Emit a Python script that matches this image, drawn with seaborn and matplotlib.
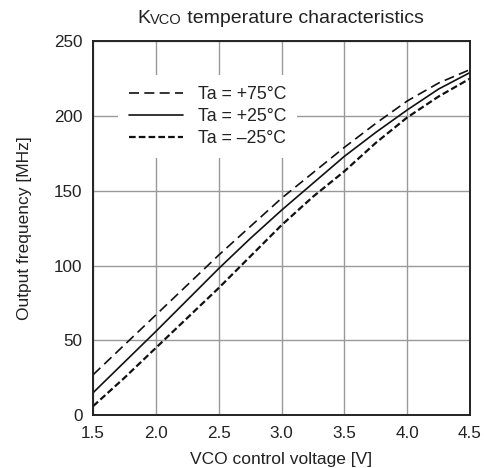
import matplotlib
matplotlib.use("Agg")
import matplotlib.pyplot as plt
import pandas as pd
import seaborn as sns

# VCO control voltage [V]
volt = [1.5, 1.75, 2.0, 2.25, 2.5, 2.75, 3.0, 3.25, 3.5, 3.75, 4.0, 4.25, 4.5]
# output frequency [MHz]
f_p75 = [27, 47, 67, 87, 107, 126, 145, 162, 179, 195, 210, 222, 231]
f_p25 = [15, 35.5, 56, 77, 98, 118, 137, 155, 173, 189, 204, 218, 229]
f_m25 = [6, 25, 45, 65, 85, 106, 127, 146, 163, 182, 199, 213, 225]
labels = ["Ta = +75\u00b0C", "Ta = +25\u00b0C", "Ta = \u201325\u00b0C"]

xticks = [1.5, 2.0, 2.5, 3.0, 3.5, 4.0, 4.5]
yticks = [0, 50, 100, 150, 200, 250]

sns.set_style("white")
plt.rcParams["font.family"] = ["Liberation Sans", "DejaVu Sans"]

fig = plt.figure(figsize=(4.85, 4.68), dpi=100)
ax = fig.add_axes([0.192, 0.113, 0.777, 0.799])

styles = [
    dict(lw=1.2, linestyle=(0, (6, 3.2))),
    dict(lw=1.2, linestyle="-"),
    dict(lw=1.6, linestyle=(0, (3.0, 1.4))),
]
for f, lab, st in zip([f_p75, f_p25, f_m25], labels, styles):
    df = pd.DataFrame({"volt": volt, "freq": f})
    sns.lineplot(data=df, x="volt", y="freq", ax=ax, color="#111111",
                 label=lab, **st)

ax.set_xlim(1.5, 4.5)
ax.set_ylim(0, 250)
ax.set_xticks(xticks)
ax.set_xticklabels([f"{t:.1f}" for t in xticks])
ax.set_yticks(yticks)
ax.grid(True, color="#999999", lw=1.0)
ax.set_axisbelow(True)
for s in ax.spines.values():
    s.set_color("#222222")
    s.set_linewidth(1.4)
ax.tick_params(axis="both", length=0, pad=7.5, labelsize=12.3, colors="#222222")

ax.set_xlabel("VCO control voltage [V]", fontsize=12.5, color="#222222", labelpad=8)
ax.set_ylabel("Output frequency [MHz]", fontsize=12.5, color="#222222", labelpad=16)

leg = ax.legend(loc="upper left", bbox_to_anchor=(0.066, 0.909), borderaxespad=0,
                borderpad=0.6, frameon=True, fancybox=False, framealpha=1,
                facecolor="white", edgecolor="none", fontsize=12.7,
                handlelength=3.1, handletextpad=0.85, labelspacing=0.3)
for t in leg.get_texts():
    t.set_color("#222222")

# title with small-caps "VCO"
t1 = fig.text(0.283, 0.943, "K", fontsize=14, color="#222222", va="bottom")
t2 = ax.annotate("VCO", xy=(1, 0), xycoords=t1, fontsize=10.5, color="#222222",
                 va="bottom", ha="left")
ax.annotate(" temperature characteristics", xy=(1, 0), xycoords=t2,
            fontsize=14, color="#222222", va="bottom", ha="left")

fig.savefig("out.png", dpi=100)
